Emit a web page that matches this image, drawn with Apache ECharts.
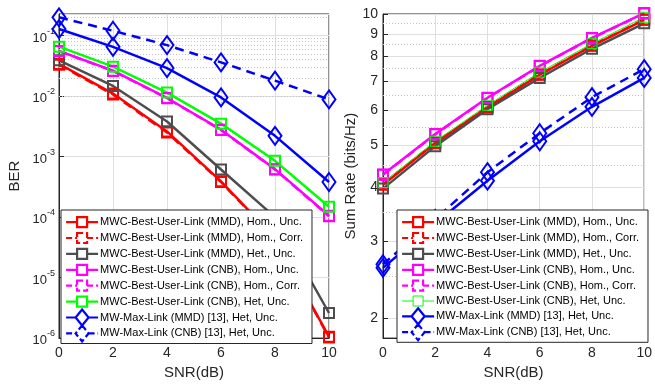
<!DOCTYPE html>
<html><head><meta charset="utf-8">
<script src="https://cdn.jsdelivr.net/npm/echarts@6/dist/echarts.min.js"></script>
<style>html,body{margin:0;padding:0;background:#fff}#c{width:655px;height:385px}</style>
</head><body><div id="c"></div>
<script>
// ---- data ----
const snr = [0, 2, 4, 6, 8, 10];
const seriesNames = [
  'MWC-Best-User-Link (MMD), Hom., Unc.',
  'MWC-Best-User-Link (MMD), Hom., Corr.',
  'MWC-Best-User-Link (MMD), Het., Unc.',
  'MWC-Best-User-Link (CNB), Hom., Unc.',
  'MWC-Best-User-Link (CNB), Hom., Corr.',
  'MWC-Best-User-Link (CNB), Het, Unc.',
  'MW-Max-Link (MMD) [13], Het, Unc.',
  'MW-Max-Link (CNB) [13], Het, Unc.'
];
// BER (left panel)
const berMmdHomUnc  = [0.034, 0.011, 0.0026, 3.9e-4, 4.5e-5, 1.05e-6];
const berMmdHomCorr = [0.033, 0.0106, 0.0025, 3.8e-4, 4.4e-5, 1.02e-6];
const berMmdHetUnc  = [0.039, 0.0147, 0.0038, 6.1e-4, 1.0e-4, 2.6e-6];
const berCnbHomUnc  = [0.0556, 0.0263, 0.0093, 0.00278, 6.2e-4, 1.05e-4];
const berCnbHomCorr = [0.0550, 0.0260, 0.0092, 0.00275, 6.1e-4, 1.03e-4];
const berCnbHetUnc  = [0.0655, 0.0306, 0.0114, 0.0035, 8.5e-4, 1.48e-4];
const berMaxMmd     = [0.128, 0.065, 0.029, 0.0095, 0.0022, 3.8e-4];
const berMaxCnb     = [0.20, 0.12, 0.0695, 0.036, 0.018, 0.0088];
// Sum rate (right panel)
const rateMmdHomUnc  = [4.05, 5.05, 6.10, 7.25, 8.45, 9.70];
const rateMmdHomCorr = [4.06, 5.06, 6.11, 7.26, 8.46, 9.71];
const rateMmdHetUnc  = [3.97, 4.97, 6.04, 7.13, 8.32, 9.52];
const rateCnbHomUnc  = [4.28, 5.30, 6.42, 7.60, 8.81, 10.05];
const rateCnbHomCorr = [4.27, 5.29, 6.41, 7.59, 8.80, 10.03];
const rateCnbHetUnc  = [4.10, 5.10, 6.17, 7.35, 8.55, 9.83];
const rateMaxMmd     = [2.61, 3.30, 4.14, 5.10, 6.12, 7.13];
const rateMaxCnb     = [2.66, 3.38, 4.33, 5.32, 6.44, 7.47];
// ticks
const snrTicks = [0, 2, 4, 6, 8, 10];
const rateTicks = [2, 3, 4, 5, 6, 7, 8, 9, 10];
const rateMinor = [2.5, 3.5, 4.5, 5.5, 6.5, 7.5, 8.5, 9.5];

// ---- styles ----
const styles = [
  {c:'#ff0000', dash:false, sym:'rect'},
  {c:'#ff0000', dash:true,  sym:'rect'},
  {c:'#4d4d4d', dash:false, sym:'rect'},
  {c:'#ff00ff', dash:false, sym:'rect'},
  {c:'#ff00ff', dash:true,  sym:'rect'},
  {c:'#00ff00', dash:false, sym:'rect'},
  {c:'#0000ff', dash:false, sym:'diamond'},
  {c:'#0000ff', dash:true,  sym:'diamond'}
];
const berData = [berMmdHomUnc, berMmdHomCorr, berMmdHetUnc, berCnbHomUnc, berCnbHomCorr, berCnbHetUnc, berMaxMmd, berMaxCnb];
const rateData = [rateMmdHomUnc, rateMmdHomCorr, rateMmdHetUnc, rateCnbHomUnc, rateCnbHomCorr, rateCnbHetUnc, rateMaxMmd, rateMaxCnb];

const AX = '#262626', GRID = '#dfdfdf', MINOR = '#c4c4c4';
const FONT = 'Liberation Sans, Arial, sans-serif';
const ICON_SQ = 'path://M16,0L16,0M16,16L16,16M0,8H11M21,8H32M11,3H21V13H11Z';
const ICON_DI = 'path://M0,8H9.5M22.5,8H32M16,0L22.5,8L16,16L9.5,8Z';

function mk(name, vals, st, gi, width, bw) {
  return {
    type: 'line', name: name, xAxisIndex: gi, yAxisIndex: gi,
    data: snr.map((x, i) => [x, vals[i]]),
    symbol: st.sym, symbolSize: st.sym === 'diamond' ? [13, 18] : 10,
    showAllSymbol: true, clip: false, animation: false,
    lineStyle: {color: st.c, width: width, type: st.dash ? [9, 6] : 'solid'},
    itemStyle: {color: 'rgba(0,0,0,0)', borderColor: st.c, borderWidth: bw},
    emphasis: {disabled: true}
  };
}
function legendItem(name, st, w) {
  return {name: name, icon: st.sym === 'diamond' ? ICON_DI : ICON_SQ,
    itemStyle: {color: 'rgba(0,0,0,0)', borderColor: st.c, borderWidth: w, borderType: st.dash ? [6, 3] : 'solid'}};
}
const series = [];
const leftLegend = [], rightLegend = [];
seriesNames.forEach((n, i) => {
  leftLegend.push(legendItem(n, styles[i], 2.2));
  series.push(mk(n, berData[i], styles[i], 0, 2.5, 2));
});
seriesNames.forEach((n, i) => {
  const nn = n + ' ';
  const thin = i === 5;
  rightLegend.push(legendItem(nn, styles[i], thin ? 1 : 2.2));
  series.push(mk(nn, rateData[i], styles[i], 1, thin ? 1 : 2.5, thin ? 1 : 2));
});
// minor grid lines
const berMinor = [];
for (let e = -6; e <= -1; e++) for (let k = 2; k <= 9; k++) { const v = k * Math.pow(10, e); if (v < 0.227) berMinor.push(v); }
function minorML(vals) {
  return {silent: true, symbol: ['none', 'none'], z: 1, animation: false,
    label: {show: false}, lineStyle: {color: MINOR, type: [1, 2], width: 1},
    emphasis: {disabled: true}, data: vals.map(v => ({yAxis: v}))};
}
series[0].markLine = minorML(berMinor);
series[8].markLine = minorML(rateMinor);

function berLabel(v) {
  const e = Math.log10(v); const r = Math.round(e);
  if (Math.abs(e - r) > 1e-6) return '';
  return '{b|10}{s|' + r + '}';
}
const labelRich = {b: {fontSize: 13, color: AX, fontFamily: FONT, verticalAlign: 'bottom', lineHeight: 18},
                   s: {fontSize: 9, color: AX, fontFamily: FONT, verticalAlign: 'top', lineHeight: 10}};

function xAx(gi) {
  return {type: 'value', gridIndex: gi, min: 0, max: 10, interval: 2,
    name: 'SNR(dB)', nameLocation: 'middle', nameGap: 25,
    nameTextStyle: {fontSize: 15, color: AX, fontFamily: FONT},
    axisLine: {show: true, lineStyle: {color: AX}},
    axisTick: {show: true, inside: true, length: 5, lineStyle: {color: AX}},
    axisLabel: {fontSize: 14, color: AX, fontFamily: FONT, margin: 8},
    splitLine: {show: true, lineStyle: {color: GRID}}};
}
const legendCommon = {
  orient: 'vertical', itemWidth: 32, itemHeight: 16, itemGap: -2.3,
  backgroundColor: '#fff', borderColor: AX, borderWidth: 1, borderRadius: 0,
  padding: [3, 9, 1, 4], selectedMode: false, symbolKeepAspect: true,
  textStyle: {fontSize: 11, lineHeight: 16, color: '#000', fontFamily: FONT, padding: [0, 0, 0, -3]},
  formatter: n => n.trim()
};

const option = {
  backgroundColor: '#fff',
  animation: false,
  grid: [
    {left: 59, right: 326, top: 14, bottom: 42, show: true, borderColor: AX, borderWidth: 1, backgroundColor: '#fff'},
    {left: 383, right: 7, top: 14, bottom: 42, show: true, borderColor: AX, borderWidth: 1, backgroundColor: '#fff'}
  ],
  xAxis: [xAx(0), xAx(1)],
  yAxis: [
    {type: 'log', logBase: 10, gridIndex: 0, min: 1e-6, max: 0.227,
     name: 'BER', nameLocation: 'middle', nameGap: 37,
     nameTextStyle: {fontSize: 15, color: AX, fontFamily: FONT},
     axisLine: {show: true, lineStyle: {color: AX}},
     axisTick: {show: true, inside: true, length: 5, lineStyle: {color: AX}},
     axisLabel: {formatter: berLabel, rich: labelRich, margin: 4, showMaxLabel: false},
     splitLine: {show: true, lineStyle: {color: GRID}}},
    {type: 'log', logBase: 10, gridIndex: 1, min: 1.8, max: 10,
     name: 'Sum Rate (bits/Hz)', nameLocation: 'middle', nameGap: 24,
     nameTextStyle: {fontSize: 15, color: AX, fontFamily: FONT},
     axisLine: {show: true, lineStyle: {color: AX}},
     axisTick: {show: true, inside: true, length: 5, lineStyle: {color: AX}, customValues: rateTicks},
     axisLabel: {fontSize: 14, color: AX, fontFamily: FONT, margin: 5, customValues: rateTicks,
                 formatter: v => String(Math.round(v))},
     splitLine: {show: true, lineStyle: {color: GRID}}}
  ],
  legend: [
    Object.assign({}, legendCommon, {left: 61, top: 210, data: leftLegend}),
    Object.assign({}, legendCommon, {left: 397, top: 210, data: rightLegend})
  ],
  series: series
};
const chart = echarts.init(document.getElementById('c'), null, {renderer: 'canvas'});
chart.setOption(option);
</script></body></html>
